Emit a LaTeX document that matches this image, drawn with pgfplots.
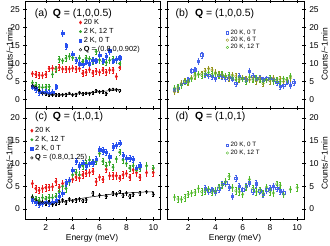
\documentclass[border=0pt]{standalone}
\usepackage{fontspec}
\setmainfont{Liberation Sans}
\usepackage{pgfplots}
\pgfplotsset{compat=1.18}

\definecolor{cred}{RGB}{235,25,25}
\definecolor{cgreen}{RGB}{50,165,40}
\definecolor{cblue}{RGB}{40,80,240}
\definecolor{oblue}{RGB}{70,100,235}
\definecolor{oolive}{RGB}{150,150,30}
\definecolor{ogreen}{RGB}{80,185,40}

\pgfplotsset{
  panel/.style={
    scale only axis,
    xmin=0.45, xmax=10.5,
    xtick={2,4,6,8,10}, minor x tick num=1,
    minor y tick num=1,
    tick align=center,
    major tick length=3.5bp, minor tick length=2bp,
    every tick/.style={black, line width=0.4pt},
    ticklabel style={font=\fontsize{8.5}{9}\selectfont},
    /pgf/number format/assume math mode=true,
    axis line style={line width=0.5pt},
    label style={font=\fontsize{8.5}{9}\selectfont},
    legend style={draw=none, fill=none, font=\fontsize{7.4}{8}\selectfont,
      inner sep=0pt, row sep=-1.6pt, anchor=north west},
    legend cell align=left,
    legend image code/.code={\draw[mark repeat=2,mark phase=2] plot coordinates {(0bp,0bp)(3bp,0bp)(6bp,0bp)};},
    clip=false,
  },
  top/.style={ymin=-2.3, ymax=27.3, ytick={0,5,10,15,20,25}, xticklabel=\empty},
  bot/.style={ymin=-2.2, ymax=22.2, ytick={0,5,10,15,20}},
  ser/.style={only marks, mark size=#1,
    error bars/y dir=both, error bars/y fixed=0.8,
    error bars/error bar style={line width=0.4pt},
    error bars/error mark options={rotate=90, mark size=0.8pt, line width=0.4pt}},
}

\newcommand{\plab}[1]{\fontsize{10.5}{11}\selectfont #1}

\begin{document}
\begin{tikzpicture}[x=1bp,y=1bp]

% ---------------- (a) ----------------
\begin{axis}[panel, top, at={(25bp,138bp)}, anchor=south west,
  width=135bp, height=107bp,
  legend style={at={(axis description cs:0.40,0.85)}}]
\addplot[ser=1.6pt, cred, mark=diamond*, mark options={fill=cred}] coordinates {
(1.0,7.2)(1.25,7.0)(1.5,6.8)(1.75,6.7)(2.0,7.0)(2.25,8.6)(2.5,8.7)(2.75,8.6)(3.0,8.9)
(3.25,8.5)(3.5,8.5)(3.75,8.5)(4.0,8.7)(4.25,8.5)(4.5,8.6)(4.75,7.3)(5.0,7.6)(5.25,8.3)
(5.5,7.4)(5.75,7.9)(6.0,7.6)(6.25,8.2)(6.5,7.6)(6.75,8.2)(7.0,8.2)(7.25,6.4)(7.5,8.9)};
\addlegendentry{20 K}
\addplot[ser=1.3pt, cgreen, mark=*, mark options={fill=cgreen}] coordinates {
(1.0,4.7)(1.25,4.0)(1.5,3.5)(1.75,3.4)(2.0,3.5)(2.25,3.6)(2.5,7.0)(2.75,8.5)(3.0,11.2)
(3.25,10.8)(3.5,11.5)(3.75,12.0)(4.0,11.6)(4.25,11.0)(4.5,11.5)(4.75,10.5)(5.0,11.5)(5.25,11.3)
(5.5,10.6)(5.75,13.3)(6.0,11.0)(6.25,10.6)(6.5,10.3)(6.75,10.9)(7.0,11.2)(7.25,11.0)(7.5,10.0)};
\addlegendentry{2 K, 12 T}
\addplot[ser=1.2pt, cblue, mark=square*, mark options={fill=cblue}] coordinates {
(1.0,3.6)(1.25,3.0)(1.5,2.0)(1.75,2.0)(2.0,2.0)(2.25,1.8)(2.5,2.0)(2.75,3.6)
(3.25,18.4)(3.5,14.9)(4.0,12.5)(4.25,11.0)(4.5,10.0)(4.75,9.8)(5.0,10.5)(5.25,10.0)
(5.5,11.0)(5.75,10.8)(6.0,12.3)(6.25,10.8)(6.5,12.0)(6.75,13.5)(7.0,10.8)(7.25,11.2)(7.5,11.6)};
\addlegendentry{2 K, 0 T}
\addplot[ser=1.3pt, black, mark=o, error bars/y fixed=0.4] coordinates {
(1.0,3.8)(1.25,3.3)(1.5,2.5)(1.75,1.8)(2.0,1.6)(2.25,1.3)(2.5,1.3)(2.75,1.4)(3.0,1.3)
(3.25,1.4)(3.5,1.5)(3.75,1.8)(4.0,1.3)(4.25,1.5)(4.5,2.0)(4.75,1.6)(5.0,1.8)(5.25,1.7)
(5.5,2.0)(5.75,2.5)(6.0,2.2)(6.25,2.3)(6.5,1.7)(6.75,2.8)(7.0,2.9)(7.25,2.8)(7.5,2.5)};
\addlegendentry{\textbf{Q} = (0.8,0,0.902)}
\addplot[black, line width=0.5pt, smooth, no marks, forget plot] coordinates {
(1.0,4.3)(1.5,2.6)(2.0,1.7)(2.5,1.35)(3.0,1.3)(4.0,1.5)(5.0,1.8)(6.0,2.2)(7.0,2.6)(7.5,2.8)};
\node[anchor=center] at (axis description cs:0.12,0.88) {\plab{(a)}};
\node[anchor=west] at (axis description cs:0.18,0.88) {\plab{\textbf{Q} = (1,0,0.5)}};
\node[rotate=90, font=\fontsize{8.5}{9}\selectfont] at (axis description cs:-0.115,0.5) {Counts/\textasciitilde1min};
\end{axis}

% ---------------- (b) ----------------
\begin{axis}[panel, top, at={(167bp,138bp)}, anchor=south west,
  width=137bp, height=107bp, yticklabel pos=right,
  legend style={at={(axis description cs:0.43,0.75)}, font=\fontsize{6.3}{6.5}\selectfont, row sep=-2.6pt}]
\addplot[ser=1.2pt, oblue, mark=square] coordinates {
(1.0,2.8)(1.25,3.2)(1.5,4.2)(1.75,5.0)(2.0,5.5)(2.25,8.0)(2.5,8.3)(2.75,10.6)(3.0,12.4)
(3.25,7.0)(3.5,6.8)(3.75,6.5)(4.0,6.0)(4.25,6.8)(4.5,6.5)(4.75,6.0)(5.0,6.2)(5.25,5.8)
(5.5,4.5)(5.75,6.5)(6.0,6.0)(6.25,5.5)(6.5,7.8)(6.75,6.5)(7.0,5.8)(7.25,6.0)(7.5,5.5)
(7.75,5.8)(8.0,6.0)(8.25,5.5)(8.5,4.8)(8.75,3.8)(9.0,4.0)(9.25,5.0)(9.5,4.0)(9.75,4.8)};
\addlegendentry{20 K, 0 T}
\addplot[ser=1.3pt, oolive, mark=o] coordinates {
(1.0,2.2)(1.25,3.0)(1.5,4.5)(1.75,5.2)(2.0,4.8)(2.25,6.0)(2.5,6.5)(2.75,7.0)(3.0,7.2)
(3.25,8.0)(3.5,8.6)(3.75,8.2)(4.0,7.5)(4.25,7.0)(4.5,6.8)(4.75,6.5)(5.0,6.0)(5.25,6.8)
(5.5,6.5)(5.75,5.5)(6.0,6.0)(6.25,5.8)(6.5,5.5)(6.75,6.0)(7.0,5.2)(7.25,5.8)(7.5,4.5)
(7.75,5.5)(8.0,5.2)(8.25,6.0)(8.5,5.5)(8.75,5.8)(9.0,5.0)(9.25,5.5)(9.5,6.0)};
\addlegendentry{20 K, 6 T}
\addplot[ser=1.3pt, ogreen, mark=o] coordinates {
(1.0,3.2)(1.25,3.5)(1.5,4.0)(1.75,5.0)(2.0,5.0)(2.25,5.8)(2.5,6.8)(2.75,7.0)(3.0,6.8)
(3.25,7.2)(3.5,7.5)(3.75,7.0)(4.0,7.2)(4.25,6.8)(4.5,7.0)(4.75,6.5)(5.0,6.8)(5.25,6.2)
(5.5,5.5)(5.75,6.0)(6.0,5.8)(6.25,5.0)(6.5,6.2)(6.75,5.5)(7.0,6.0)(7.25,5.5)(7.5,5.0)
(7.75,5.5)(8.0,6.0)(8.25,5.2)(8.5,5.5)(8.75,5.0)(9.0,5.8)(9.25,5.5)(9.5,6.5)};
\addlegendentry{20 K, 12 T}
\node[anchor=center] at (axis description cs:0.11,0.88) {\plab{(b)}};
\node[anchor=west] at (axis description cs:0.18,0.88) {\plab{\textbf{Q} = (1,0,0.5)}};
\node[rotate=90, font=\fontsize{8.5}{9}\selectfont] at (axis description cs:1.15,0.5) {Counts/\textasciitilde1min};
\end{axis}

% ---------------- (c) ----------------
\begin{axis}[panel, bot, at={(25bp,27bp)}, anchor=south west,
  width=135bp, height=111bp,
  legend style={at={(axis description cs:0.04,0.845)}}]
\addplot[ser=1.6pt, cred, mark=diamond*, mark options={fill=cred}, error bars/y fixed=0.7] coordinates {
(1.0,5.6)(1.25,4.5)(1.5,4.1)(1.75,4.5)(2.0,4.7)(2.25,4.8)(2.5,4.9)(2.75,6.0)(3.0,4.8)
(3.25,5.6)(3.5,5.8)(3.75,6.2)(4.0,6.5)(4.25,7.0)(4.5,6.8)(4.75,7.5)(5.0,7.8)(5.25,8.0)
(5.5,8.3)(5.75,6.0)(6.0,7.0)(6.25,6.5)(6.5,8.7)(6.75,7.3)(7.0,7.3)(7.25,7.3)(7.5,6.8)
(7.75,7.5)(8.0,7.8)(8.25,7.0)(8.5,8.6)(8.75,8.0)(9.0,7.0)(9.5,8.0)(10.0,8.0)};
\addlegendentry{20 K}
\addplot[ser=1.3pt, cgreen, mark=*, mark options={fill=cgreen}, error bars/y fixed=0.7] coordinates {
(1.0,2.5)(1.25,2.2)(1.5,1.9)(1.75,2.5)(2.0,2.2)(2.25,2.5)(2.5,2.5)(2.75,2.8)(3.0,3.8)
(3.25,5.0)(3.5,4.5)(3.75,6.0)(4.0,7.5)(4.25,8.0)(4.5,7.5)(4.75,9.5)(5.0,10.0)(5.25,10.8)
(5.5,10.0)(5.75,10.5)(6.0,12.2)(6.25,10.5)(6.5,9.5)(6.75,10.3)(7.0,9.2)(7.25,11.0)(7.5,12.5)
(7.75,10.8)(8.0,10.0)(8.25,9.0)(8.5,9.5)(8.75,8.5)(9.0,9.0)(9.5,9.5)(10.0,9.0)};
\addlegendentry{2 K, 12 T}
\addplot[ser=1.2pt, cblue, mark=square*, mark options={fill=cblue}, error bars/y fixed=0.7] coordinates {
(1.0,2.0)(1.25,1.5)(1.5,1.2)(1.75,1.3)(2.0,1.5)(2.25,1.3)(2.5,1.5)(2.75,1.8)(3.0,2.8)
(3.25,3.5)(3.5,5.8)(3.75,6.3)(4.0,8.5)(4.25,10.5)(4.5,9.5)(4.75,10.0)(5.0,9.5)(5.25,10.0)
(5.5,10.2)(5.75,11.0)(6.0,13.0)(6.25,12.8)(6.5,12.5)(6.75,11.5)(7.0,13.7)(7.25,14.0)(7.5,14.5)
(7.75,11.8)(8.0,11.2)(8.25,11.2)(8.5,11.0)(8.75,9.0)(9.0,9.5)};
\addlegendentry{2 K, 0 T}
\addplot[ser=1.3pt, black, mark=o, error bars/y fixed=0.4] coordinates {
(1.0,2.6)(1.25,2.0)(1.5,1.3)(1.75,1.5)(2.0,1.2)(2.25,1.5)(2.5,1.0)(2.75,1.2)(3.0,1.5)
(3.25,2.0)(3.5,1.5)(3.75,2.2)(4.0,1.8)(4.25,2.0)(4.5,2.2)(4.75,1.8)(5.0,2.0)(5.5,3.5)
(6.0,3.0)(6.5,2.8)(7.0,3.5)(7.25,3.2)(7.5,3.8)(7.75,3.0)(8.0,3.5)(8.25,2.8)(8.5,3.2)
(9.0,3.5)(9.5,3.8)(10.0,3.2)};
\addlegendentry{\textbf{Q} = (0.8,0,1.25)}
\addplot[black, line width=0.5pt, smooth, no marks, forget plot] coordinates {
(1.0,2.4)(1.5,1.7)(2.0,1.4)(2.5,1.35)(3.0,1.5)(4.0,2.0)(5.0,2.5)(6.0,2.9)(7.0,3.3)(8.0,3.5)(9.0,3.7)(10.0,3.8)};
\node[anchor=center] at (axis description cs:0.12,0.925) {\plab{(c)}};
\node[anchor=west] at (axis description cs:0.18,0.925) {\plab{\textbf{Q} = (1,0,1)}};
\node[rotate=90, font=\fontsize{8.5}{9}\selectfont] at (axis description cs:-0.115,0.5) {Counts/\textasciitilde1min};
\end{axis}

% ---------------- (d) ----------------
\begin{axis}[panel, bot, at={(167bp,27bp)}, anchor=south west,
  width=137bp, height=111bp, yticklabel pos=right,
  legend style={at={(axis description cs:0.43,0.71)}, font=\fontsize{6.3}{6.5}\selectfont, row sep=-2.2pt}]
\addplot[ser=1.2pt, oblue, mark=square, error bars/y fixed=0.7] coordinates {
(3.25,4.5)(3.5,4.0)(3.75,4.2)(4.0,3.8)(4.25,4.5)(4.5,5.5)(4.75,5.8)(5.0,4.8)(5.25,2.8)
(5.5,6.8)(5.75,5.0)(6.0,4.2)(6.25,5.0)(6.5,5.8)(6.75,4.0)(7.0,5.6)(7.25,4.0)(7.5,3.2)
(7.75,4.2)(8.0,4.5)(8.25,5.0)(8.5,4.6)(8.75,4.0)(9.0,3.6)};
\addlegendentry{20 K, 0 T}
\addplot[ser=1.3pt, ogreen, mark=o, error bars/y fixed=0.7] coordinates {
(1.0,2.6)(1.25,2.2)(1.5,2.1)(1.75,2.5)(2.0,3.2)(2.25,3.5)(2.5,3.7)(2.75,4.5)(3.0,3.8)
(3.25,4.0)(3.5,4.4)(3.75,3.7)(4.0,4.0)(4.25,4.8)(4.5,5.2)(4.75,6.0)(5.0,7.2)(5.25,4.7)
(5.5,4.0)(5.75,3.8)(6.0,3.2)(6.25,4.8)(6.5,6.5)(6.75,4.5)(7.0,3.8)(7.25,4.2)(7.5,3.5)
(7.75,4.8)(8.0,3.8)(8.25,3.5)(8.5,5.5)(8.75,5.2)(9.0,3.2)(9.5,4.3)(10.0,4.7)};
\addlegendentry{20 K, 12 T}
\node[anchor=center] at (axis description cs:0.11,0.925) {\plab{(d)}};
\node[anchor=west] at (axis description cs:0.18,0.925) {\plab{\textbf{Q} = (1,0,1)}};
\node[rotate=90, font=\fontsize{8.5}{9}\selectfont] at (axis description cs:1.15,0.5) {Counts/\textasciitilde1min};
\end{axis}

\node[font=\fontsize{8.5}{9}\selectfont] at (92bp,8bp) {Energy (meV)};
\node[font=\fontsize{8.5}{9}\selectfont] at (235bp,8bp) {Energy (meV)};

\pgfresetboundingbox
\path (0,0) rectangle (330bp,246bp);
\end{tikzpicture}
\end{document}
